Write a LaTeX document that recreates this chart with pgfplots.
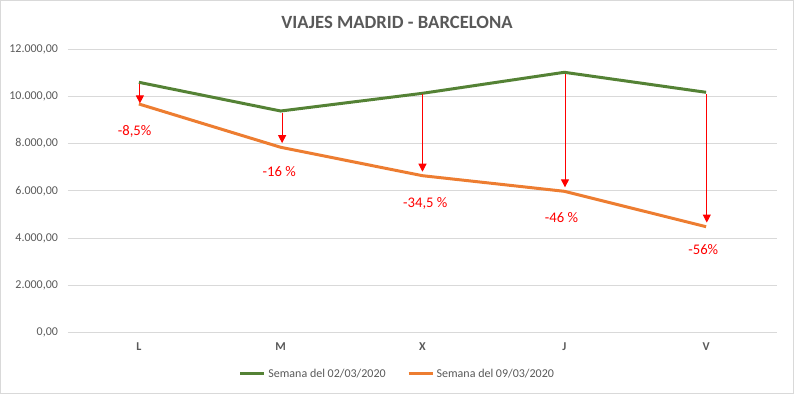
\documentclass[border=0pt]{standalone}
\usepackage{pgfplots}
\pgfplotsset{compat=1.18}
\usepackage{fontspec}
\setmainfont{Carlito}
\usetikzlibrary{arrows.meta}
\definecolor{vgreen}{HTML}{548235}
\definecolor{vorange}{HTML}{ED7D31}
\definecolor{txtgray}{HTML}{595959}
\definecolor{gridgray}{HTML}{D9D9D9}
\definecolor{vred}{HTML}{FF0000}
\begin{document}
\begin{tikzpicture}[x=1pt,y=1pt]
\path[use as bounding box] (0,0) rectangle (595.5,295.5);
\draw[gridgray, line width=0.75pt] (0.375,0.375) rectangle (595.125,295.125);
\node[font=\fontsize{14}{16}\selectfont\bfseries, text=txtgray] at (297.75,279) {VIAJES MADRID - BARCELONA};
\begin{axis}[
 at={(51pt,45.9pt)}, anchor=south west,
 scale only axis, width=531.75pt, height=212.85pt,
 xmin=-0.5, xmax=4.5, ymin=0, ymax=12000,
 xtick={0,...,4}, xticklabels={L,M,X,J,V},
 ytick={0,2000,...,12000},
 scaled y ticks=false,
 ymajorgrids, grid style={gridgray, line width=0.75pt},
 axis line style={draw=none},
 major tick length=0pt,
 tick label style={font=\fontsize{9}{11}\selectfont, text=txtgray},
 xticklabel style={font=\fontsize{9}{11}\selectfont\bfseries, yshift=-4pt},
 yticklabel style={xshift=-4pt, /pgf/number format/fixed, /pgf/number format/fixed zerofill, /pgf/number format/precision=2, /pgf/number format/1000 sep={.}, /pgf/number format/use comma, /pgf/number format/assume math mode=true},
 legend style={at={(0.465,-0.145)}, anchor=center, draw=none, fill=none, font=\fontsize{9}{11}\selectfont, text=txtgray, legend columns=2, /tikz/every even column/.append style={column sep=14pt}},
 legend image code/.code={\draw[#1] (0pt,0pt) -- (18pt,0pt);},
 clip=false,
]
\addplot[vgreen, line width=2.25pt] coordinates {(0,10592) (1,9378) (2,10127) (3,11015) (4,10169)};
\addlegendentry{Semana del 02/03/2020}
\addplot[vorange, line width=2.25pt] coordinates {(0,9675) (1,7844) (2,6643) (3,5983) (4,4486)};
\addlegendentry{Semana del 09/03/2020}
\addplot[vred, line width=0.75pt, -{Triangle[width=6pt,length=6pt]}, forget plot] coordinates {(0.007,10540) (0.007,9700)};
\addplot[vred, line width=0.75pt, -{Triangle[width=6pt,length=6pt]}, forget plot] coordinates {(1.01,9300) (1.01,8020)};
\addplot[vred, line width=0.75pt, -{Triangle[width=6pt,length=6pt]}, forget plot] coordinates {(2.0,10080) (2.0,6810)};
\addplot[vred, line width=0.75pt, -{Triangle[width=6pt,length=6pt]}, forget plot] coordinates {(3.005,10960) (3.005,6150)};
\addplot[vred, line width=0.75pt, -{Triangle[width=6pt,length=6pt]}, forget plot] coordinates {(4.005,10110) (4.005,4660)};
\node[text=vred, font=\fontsize{11}{13}\selectfont] at (axis cs:-0.03,8503) {-8,5\%};
\node[text=vred, font=\fontsize{11}{13}\selectfont] at (axis cs:0.99,6812) {-16 \%};
\node[text=vred, font=\fontsize{11}{13}\selectfont] at (axis cs:2.02,5476) {-34,5 \%};
\node[text=vred, font=\fontsize{11}{13}\selectfont] at (axis cs:2.98,4867) {-46 \%};
\node[text=vred, font=\fontsize{11}{13}\selectfont] at (axis cs:3.98,3501) {-56\%};
\end{axis}
\end{tikzpicture}
\end{document}
